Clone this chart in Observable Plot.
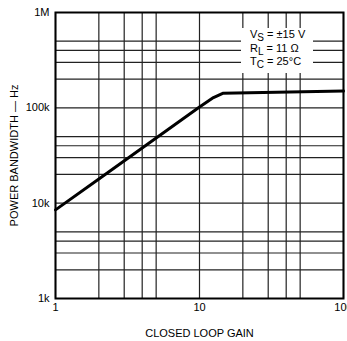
<!DOCTYPE html>
<html>
<head>
<meta charset="utf-8">
<script src="https://cdn.jsdelivr.net/npm/d3@7"></script>
<script src="https://cdn.jsdelivr.net/npm/@observablehq/plot@0.6"></script>
<style>
  html, body { margin: 0; padding: 0; background: white; }
  #wrap { position: relative; width: 347px; height: 341px; overflow: hidden; background: white; }
  #legend {
    position: absolute; left: 241px; top: 28px; width: 72px; height: 45px;
    background: white; font-family: 'Liberation Sans', Arial, sans-serif; font-size: 11px;
    color: #000; box-sizing: border-box; padding: 0 0 0 9px; line-height: 12.5px; white-space: nowrap;
  }
  #legend .s { font-size: 10px; position: relative; top: 3px; }
</style>
</head>
<body>
<div id="wrap"></div>
<script>
// Curve: closed loop gain vs power bandwidth (Hz)
const gain = [1, 2, 10, 12.5, 14.5, 100];
const bandwidth = [8500, 17900, 102000, 128000, 142000, 150000];

// Grid lines
const xGrid = [1, 2, 3, 4, 5, 10, 20, 30, 40, 50, 100];
const yGrid = [1000, 2000, 3000, 4000, 5000, 10000, 20000, 30000, 40000, 50000,
               100000, 200000, 300000, 400000, 500000, 1000000];

// Tick labels
const xTickValues = [1, 10, 100];
const xTickLabels = ["1", "10", "100"];
const yTickValues = [1000, 10000, 100000, 1000000];
const yTickLabels = ["1k", "10k", "100k", "1M"];

// Legend lines: [main, subscript, rest]
const legendMain = ["V", "R", "T"];
const legendSub = ["S", "L", "C"];
const legendRest = [" = ±15 V", " = 11 Ω", " = 25°C"];

const curve = gain.map((g, i) => ({gain: g, bw: bandwidth[i]}));

const chart = Plot.plot({
  width: 347,
  height: 341,
  marginLeft: 55,
  marginRight: 4,
  marginTop: 12,
  marginBottom: 43,
  x: {type: "log", domain: [1, 100]},
  y: {type: "log", domain: [1000, 1000000]},
  style: {fontFamily: "'Liberation Sans', Arial, sans-serif", fontSize: "11px", color: "#000", background: "white", overflow: "visible"},
  marks: [
    Plot.ruleX(xGrid, {stroke: "#222", strokeWidth: 1.2, strokeOpacity: 1}),
    Plot.ruleY(yGrid, {stroke: "#222", strokeWidth: 1.2, strokeOpacity: 1}),
    Plot.frame({stroke: "#000", strokeWidth: 2}),
    Plot.line(curve, {x: "gain", y: "bw", stroke: "#000", strokeWidth: 3, strokeLinejoin: "round"}),
    Plot.axisX({
      ticks: xTickValues,
      tickFormat: d => xTickLabels[xTickValues.indexOf(d)],
      tickSize: 0,
      tickPadding: 5,
      label: "CLOSED LOOP GAIN",
      labelAnchor: "center",
      labelArrow: "none",
      labelOffset: 38
    }),
    Plot.axisY({
      ticks: yTickValues,
      tickFormat: d => yTickLabels[yTickValues.indexOf(d)],
      tickSize: 0,
      tickPadding: 6,
      label: "POWER BANDWIDTH — Hz",
      labelAnchor: "center",
      labelArrow: "none",
      labelOffset: 45
    })
  ]
});

const wrap = document.getElementById("wrap");
wrap.appendChild(chart);

const legend = document.createElement("div");
legend.id = "legend";
legendMain.forEach((m, i) => {
  const line = document.createElement("div");
  line.appendChild(document.createTextNode(m));
  const sub = document.createElement("span");
  sub.className = "s";
  sub.textContent = legendSub[i];
  line.appendChild(sub);
  line.appendChild(document.createTextNode(legendRest[i]));
  legend.appendChild(line);
});
wrap.appendChild(legend);
</script>
</body>
</html>
